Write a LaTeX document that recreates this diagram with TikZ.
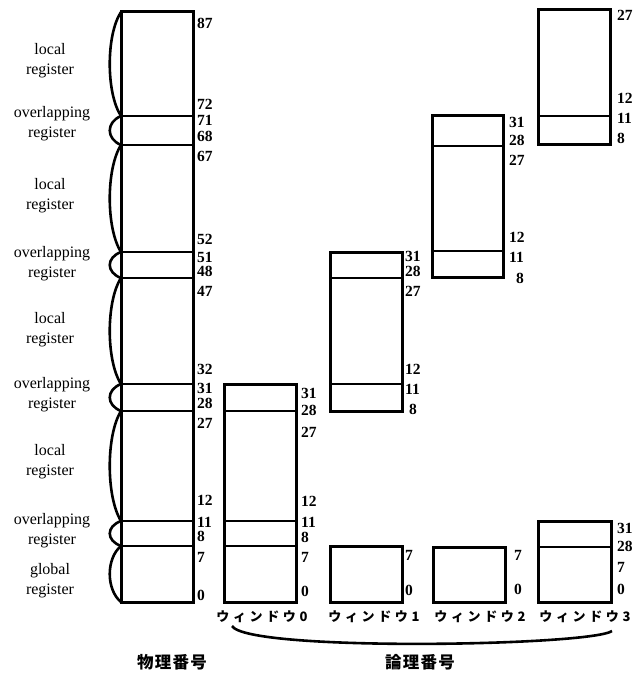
\documentclass[tikz,border=0pt]{standalone}
\usepackage{fontspec}
\setmainfont{Liberation Serif}
\newfontfamily\jpfont[LetterSpace=28]{Noto Sans CJK JP}
\newfontfamily\jpbig[LetterSpace=8]{Noto Sans CJK JP}
\usetikzlibrary{positioning}

\begin{document}
\begin{tikzpicture}[x=1pt, y=-1pt,
  regbox/.style={draw, line width=3pt},
  divline/.style={line width=2pt},
  num/.style={anchor=west, inner sep=0pt, font=\bfseries\fontsize{15.5}{15.5}\selectfont},
  kind/.style={align=center, inner sep=0pt, font=\fontsize{16}{20}\selectfont},
  brace/.style={line width=2.6pt},
  winname/.style={inner sep=0pt, font=\jpfont\bfseries\fontsize{13}{13}\selectfont},
  axisname/.style={inner sep=0pt, font=\jpbig\bfseries\fontsize{16.5}{16.5}\selectfont}
]
\useasboundingbox (0,0) rectangle (642,676);

% physical register file
\draw[regbox] (121,12) rectangle (193,602);
\foreach \y in {116,145,252,278,384,411,521,546}
  \draw[divline] (121,\y) -- (193,\y);
\foreach \a/\b in {12/116,116/145,145/252,252/278,278/384,384/411,411/521,521/546,546/602}
  \draw[brace] (121,\a) .. controls (106,{\a+0.22*(\b-\a)}) and (106,{\b-0.22*(\b-\a)}) .. (121,\b);

\node[kind] (loc3) at (50,61) {local\\register};
\node[kind] (ovl3) at (52,124) {overlapping\\register};
\node[kind] (loc2) at (50,196) {local\\register};
\node[kind] (ovl2) at (52,264) {overlapping\\register};
\node[kind] (loc1) at (50,330) {local\\register};
\node[kind] (ovl1) at (52,395) {overlapping\\register};
\node[kind] (loc0) at (50,462) {local\\register};
\node[kind] (ovl0) at (52,531) {overlapping\\register};
\node[kind] (glob) at (50,581) {global\\register};

\foreach \n/\y in {87/23,72/104,71/120,68/136,67/156,52/239,51/257,48/271,47/291,32/369,31/388,28/403,27/423,12/500,11/522,8/536,7/557,0/595}
  \node[num] (p\n) at (197,\y) {\n};

% window 0
\draw[regbox] (224,384) rectangle (296,602);
\foreach \y in {411,521,546}
  \draw[divline] (224,\y) -- (296,\y);
\foreach \n/\y in {31/393,28/410,27/432,12/501,11/522,8/537,7/557,0/591}
  \node[num] (wa\n) at (301,\y) {\n};

% window 1
\draw[regbox] (330,252) rectangle (402,411);
\foreach \y in {278,384}
  \draw[divline] (330,\y) -- (402,\y);
\draw[regbox] (330,546) rectangle (402,602);
\foreach \n/\y in {31/256,28/271,27/291,12/369,11/389}
  \node[num] (wb\n) at (405,\y) {\n};
\node[num] (wb8) at (409,409) {8};
\node[num] (wb7) at (405,555) {7};
\node[num] (wb0) at (405,590) {0};

% window 2
\draw[regbox] (432,116) rectangle (503,277);
\foreach \y in {146,251}
  \draw[divline] (432,\y) -- (503,\y);
\draw[regbox] (433,547) rectangle (505,602);
\foreach \n/\y in {31/122,28/140,27/160,12/237,11/257}
  \node[num] (wc\n) at (509,\y) {\n};
\node[num] (wc8) at (516,278) {8};
\node[num] (wc7) at (514,555) {7};
\node[num] (wc0) at (514,589) {0};

% window 3
\draw[regbox] (538,10) rectangle (610,145);
\draw[divline] (538,116) -- (610,116);
\draw[regbox] (538,521) rectangle (611,602);
\draw[divline] (538,547) -- (611,547);
\foreach \n/\y in {27/15,12/98,11/118,8/138,31/528,28/546,7/567,0/589}
  \node[num] (wd\n) at (617,\y) {\n};

% window names
\node[winname] (name0) at (262,617) {ウィンドウ0};
\node[winname] (name1) at (374,617) {ウィンドウ1};
\node[winname] (name2) at (480,617) {ウィンドウ2};
\node[winname] (name3) at (585,617) {ウィンドウ3};

\coordinate (lgL) at (232,626);
\coordinate (lgR) at (612,631);
\draw[brace] (lgL) .. controls (248,652) and (590,646) .. (lgR);

\node[axisname] (phys) at (172,662) {物理番号};
\node[axisname] (logi) at (420,662) {論理番号};
\end{tikzpicture}
\end{document}
